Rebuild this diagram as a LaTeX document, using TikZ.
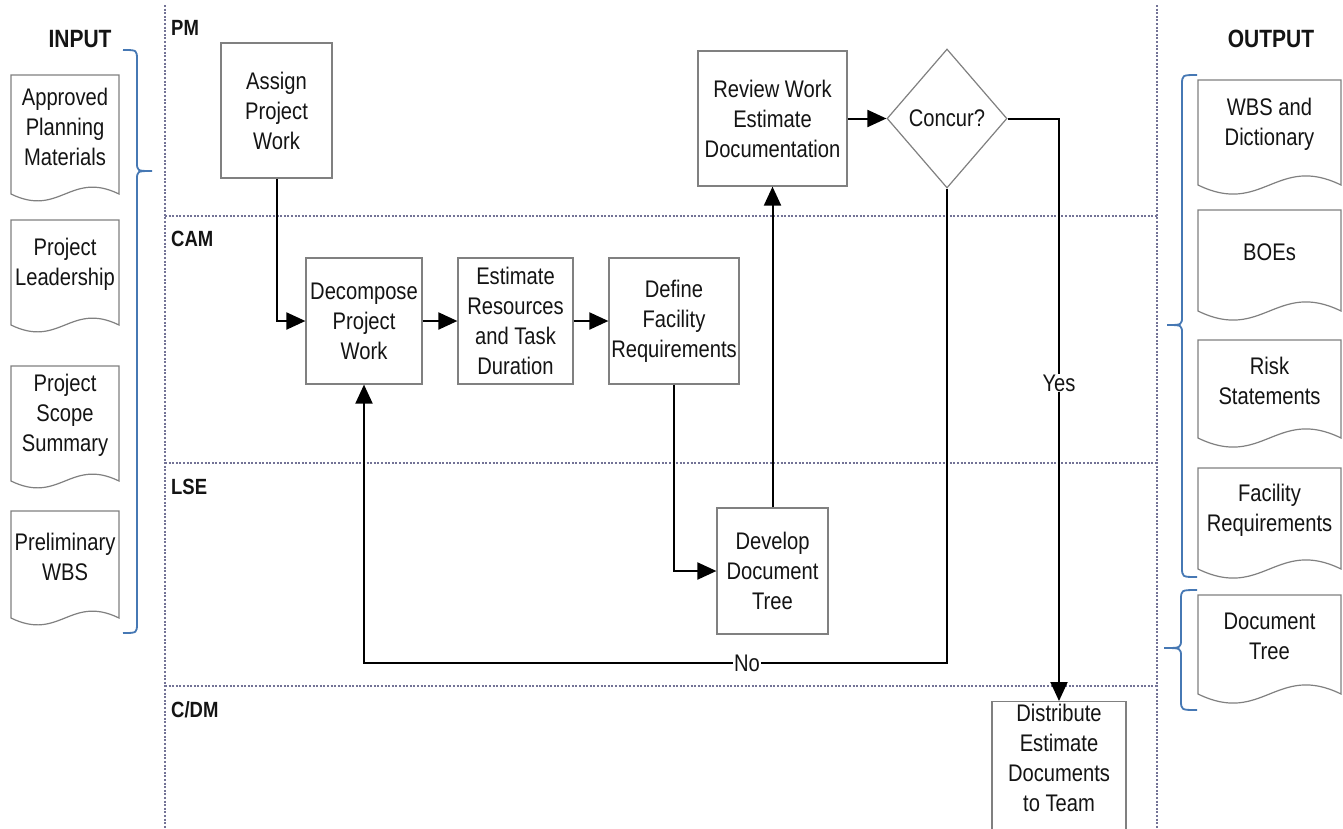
\documentclass[tikz,border=0pt]{standalone}
\usepackage{fontspec}
\setmainfont{Liberation Sans}[FakeStretch=0.84]
\usetikzlibrary{shapes.geometric,arrows.meta,calc}
\definecolor{boxgray}{RGB}{128,128,128}
\definecolor{lanecol}{RGB}{115,115,150}
\definecolor{bracecol}{RGB}{70,120,180}
\definecolor{txt}{RGB}{20,20,20}
\tikzset{
 proc/.style={draw=boxgray, line width=1.2pt, rectangle, align=center, inner sep=0pt, font=\fontsize{24}{30}\selectfont, text=txt},
 dec/.style={draw=boxgray, line width=1.2pt, diamond, inner sep=0pt, font=\fontsize{24}{30}\selectfont, text=txt},
 conn/.style={line width=2pt, black, -{Triangle[length=19pt,width=17pt]}},
 lane/.style={draw=lanecol, line width=1.6pt, dash pattern=on 2pt off 1.6pt},
 lanelabel/.style={anchor=west, font=\bfseries\fontsize{22}{26}\selectfont, inner sep=0pt, text=txt},
 iolabel/.style={font=\bfseries\fontsize{25}{28}\selectfont, inner sep=0pt, text=txt},
 docline/.style={draw=boxgray, line width=1.2pt},
 doctext/.style={align=center, inner sep=0pt, font=\fontsize{24}{30}\selectfont, text=txt},
 brace/.style={draw=bracecol, line width=1.8pt},
 lbl/.style={fill=white, inner sep=1pt, font=\fontsize{24}{28}\selectfont, text=txt}
}
\newcommand{\docshape}[6]{%
 \draw[docline] (#2,#5) -- (#2,#3) -- (#4,#3) -- (#4,#5) .. controls ({#4-0.45*(#4-#2)},{#5-0.22*(#4-#2)}) and ({#2+0.45*(#4-#2)},{#5+0.22*(#4-#2)}) .. (#2,#5) -- cycle;
 \node[doctext] (#1) at ({(#2+#4)/2},{(#3+#5)/2-8}) {#6};}
\begin{document}
\begin{tikzpicture}[x=1pt,y=-1pt]
\useasboundingbox (0,0) rectangle (1343,828);
\clip (0,0) rectangle (1343,828);
\fill[white] (0,0) rectangle (1343,828);

% swim lanes
\draw[lane] (165,5) -- (165,828);
\draw[lane] (1157,5) -- (1157,828);
\draw[lane] (165,216) -- (1157,216);
\draw[lane] (165,463) -- (1157,463);
\draw[lane] (165,686) -- (1157,686);
\node[lanelabel] (pm) at (171,28) {PM};
\node[lanelabel] (cam) at (171,239) {CAM};
\node[lanelabel] (lse) at (171,487) {LSE};
\node[lanelabel] (cdm) at (171,710) {C/DM};

% input / output headers
\node[iolabel] (input) at (80,39) {INPUT};
\node[iolabel] (output) at (1271,39) {OUTPUT};

% input documents
\docshape{in1}{11}{75}{119}{194}{Approved\\Planning\\Materials}
\docshape{in2}{11}{220}{119}{325}{Project\\Leadership}
\docshape{in3}{11}{366}{119}{481}{Project\\Scope\\Summary}
\docshape{in4}{11}{511}{119}{618}{Preliminary\\WBS}

% output documents
\docshape{out1}{1198}{80}{1341}{185}{WBS and\\Dictionary}
\docshape{out2}{1198}{210}{1341}{311}{BOEs}
\docshape{out3}{1198}{340}{1341}{438}{Risk\\Statements}
\docshape{out4}{1198}{468}{1341}{569}{Facility\\Requirements}
\docshape{out5}{1198}{595}{1341}{694}{Document\\Tree}

% braces
\draw[brace] (123,50) .. controls (137,50) .. (137,60) -- (137,162) .. controls (137,171) .. (152,171) .. controls (137,171) .. (137,180) -- (137,623) .. controls (137,633) .. (123,633);
\draw[brace] (1197,75) .. controls (1182,75) .. (1182,85) -- (1182,316) .. controls (1182,325) .. (1167,325) .. controls (1182,325) .. (1182,334) -- (1182,567) .. controls (1182,577) .. (1197,577);
\draw[brace] (1197,590) .. controls (1181,590) .. (1181,600) -- (1181,639) .. controls (1181,648) .. (1164,648) .. controls (1181,648) .. (1181,657) -- (1181,700) .. controls (1181,710) .. (1197,710);

% process nodes
\node[proc, minimum width=111pt, minimum height=135pt] (assign) at (276.5,110.5) {Assign\\Project\\Work};
\node[proc, minimum width=116pt, minimum height=126pt] (decomp) at (364,321) {Decompose\\Project\\Work};
\node[proc, minimum width=115pt, minimum height=126pt] (estim) at (515.5,321) {Estimate\\Resources\\and Task\\Duration};
\node[proc, minimum width=130pt, minimum height=126pt] (define) at (674,321) {Define\\Facility\\Requirements};
\node[proc, minimum width=111pt, minimum height=126pt] (develop) at (772.5,571) {Develop\\Document\\Tree};
\node[proc, minimum width=149pt, minimum height=135pt] (review) at (772.5,118.5) {Review Work\\Estimate\\Documentation};
\node[dec, minimum width=120pt, minimum height=139pt] (concur) at (947,118.5) {Concur?};
\node[proc, minimum width=134pt, minimum height=160pt, anchor=north] (distrib) at (1059,701) {};
\node[doctext, anchor=north] (distribtext) at (1059,704) {Distribute\\Estimate\\Documents\\to Team};

% connectors
\coordinate (nolevel) at (0,663);
\draw[conn] (assign.south) |- (decomp.west);
\draw[conn] (decomp.east) -- (estim.west);
\draw[conn] (estim.east) -- (define.west);
\draw[conn] (define.south) |- (develop.west);
\draw[conn] (develop.north) -- (review.south);
\draw[conn] (review.east) -- (concur.west);
\draw[conn] (concur.south) |- (decomp.south |- nolevel) -- (decomp.south);
\draw[conn] (concur.east) -| (distrib.north);
\node[lbl] (nolbl) at (747,663) {No};
\node[lbl] (yeslbl) at (1059,383) {Yes};
\end{tikzpicture}
\end{document}
